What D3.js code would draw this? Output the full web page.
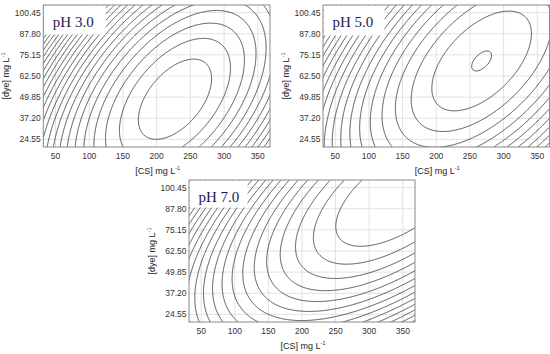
<!DOCTYPE html>
<html>
<head>
<meta charset="utf-8">
<script src="https://cdn.jsdelivr.net/npm/d3@7"></script>
<style>
  body { margin: 0; background: #fff; }
  svg text { font-family: Arial, "Liberation Sans", sans-serif; }
</style>
</head>
<body>
<svg id="chart" width="550" height="354"></svg>
<script>
// axis ranges and ticks (CCD design: axial points)
var csRange = [31.8, 368.2];
var dyeRange = [20, 105];
var csTicks = [50, 100, 150, 200, 250, 300, 350];
var dyeTicks = [24.55, 37.20, 49.85, 62.50, 75.15, 87.80, 100.45];

// one response surface per pH, in canonical form (coded units)
var phLabels = ["pH 3.0", "pH 5.0", "pH 7.0"];
var optCS = [227.2, 267.4, 351.4];
var optDye = [48.6, 71.5, 97.8];
var peak = [93.85, 95, 96.5];
var curvCS = [17.71, 13.06, 10.63];
var curvDye = [5.79, 5.12, 6.58];
var curvCross = [-10.40, -8.96, -10.6];

// contour levels (the small one only exists near the pH 5.0 optimum)
var levels = [94.8, 90, 85, 80, 75, 70, 65, 60, 55, 50, 45, 40, 35, 30, 25, 20, 15, 10, 5, 0,
              -5, -10, -15, -20, -25, -30, -35, -40, -45, -50, -55, -60, -65, -70, -75, -80,
              -85, -90, -95, -100, -105, -110, -115, -120, -125, -130, -135, -140, -145, -150];
var skipLevels = [[], [], [94.8]];

// where each panel sits on the page
var boxes = [
  {x0: 43.3, x1: 270, y0: 5, y1: 147},
  {x0: 323, x1: 549.5, y0: 5, y1: 147},
  {x0: 189, x1: 415, y0: 180, y1: 322}
];
var tagBoxes = [
  {w: 62, h: 29},
  {w: 61, h: 30},
  {w: 58, h: 27}
];

var svg = d3.select("#chart");

function response(i, cs, dye) {
  var u = (cs - optCS[i]) / 100;
  var v = (dye - optDye[i]) / 25.27;
  return peak[i] - (curvCS[i] * u * u + curvDye[i] * v * v + curvCross[i] * u * v);
}

phLabels.forEach(function(label, i) {
  var b = boxes[i];
  var x = d3.scaleLinear().domain(csRange).range([b.x0, b.x1]);
  var y = d3.scaleLinear().domain(dyeRange).range([b.y1, b.y0]);

  var g = svg.append("g");

  g.append("rect")
    .attr("x", b.x0).attr("y", b.y0)
    .attr("width", b.x1 - b.x0).attr("height", b.y1 - b.y0)
    .attr("fill", "#fff");

  // grid
  g.selectAll("line.gx").data(csTicks).enter().append("line")
    .attr("x1", d => x(d)).attr("x2", d => x(d))
    .attr("y1", b.y0).attr("y2", b.y1)
    .attr("stroke", "#e2e2e2").attr("stroke-width", 1);
  g.selectAll("line.gy").data(dyeTicks).enter().append("line")
    .attr("x1", b.x0).attr("x2", b.x1)
    .attr("y1", d => y(d)).attr("y2", d => y(d))
    .attr("stroke", "#e2e2e2").attr("stroke-width", 1);

  // contour grid, a bit larger than the plot so edges are not stroked
  var gx0 = 20, gy0 = 15, sx = 1, sy = 0.4;
  var nx = 361, ny = 238;
  var values = new Array(nx * ny);
  for (var j = 0; j < ny; j++) {
    for (var k = 0; k < nx; k++) {
      values[j * nx + k] = response(i, gx0 + k * sx, gy0 + j * sy);
    }
  }
  var th = levels.filter(l => skipLevels[i].indexOf(l) < 0);
  var contours = d3.contours().size([nx, ny]).thresholds(th)(values);

  var tr = d3.geoTransform({
    point: function(px, py) {
      this.stream.point(x(gx0 + (px - 0.5) * sx), y(gy0 + (py - 0.5) * sy));
    }
  });
  var path = d3.geoPath(tr);

  var clipId = "clip" + i;
  svg.append("clipPath").attr("id", clipId).append("rect")
    .attr("x", b.x0).attr("y", b.y0)
    .attr("width", b.x1 - b.x0).attr("height", b.y1 - b.y0);

  g.append("g").attr("clip-path", "url(#" + clipId + ")")
    .selectAll("path").data(contours).enter().append("path")
    .attr("d", path)
    .attr("fill", "none")
    .attr("stroke", "#2b2b2b")
    .attr("stroke-width", 0.8);

  // label tag
  g.append("rect")
    .attr("x", b.x0 + 0.5).attr("y", b.y0 + 0.5)
    .attr("width", tagBoxes[i].w).attr("height", tagBoxes[i].h)
    .attr("fill", "#fff");
  g.append("text")
    .attr("x", b.x0 + 9.5).attr("y", b.y0 + 21.5)
    .style("font-family", "'Liberation Serif', 'Times New Roman', serif")
    .attr("font-size", 15)
    .attr("fill", "#1c1c55")
    .text(label);

  g.append("rect")
    .attr("x", b.x0).attr("y", b.y0)
    .attr("width", b.x1 - b.x0).attr("height", b.y1 - b.y0)
    .attr("fill", "none").attr("stroke", "#8a8a8a").attr("stroke-width", 1);

  // tick labels
  g.selectAll("text.xt").data(csTicks).enter().append("text")
    .attr("x", d => x(d)).attr("y", b.y1 + 11.5)
    .attr("text-anchor", "middle")
    .attr("font-size", 8.5).attr("fill", "#333")
    .text(d => d);
  g.selectAll("text.yt").data(dyeTicks).enter().append("text")
    .attr("x", b.x0 - 2.5).attr("y", d => y(d) + 3)
    .attr("text-anchor", "end")
    .attr("font-size", 8.5).attr("fill", "#333")
    .text(d => d.toFixed(2));

  // axis titles
  var xt = g.append("text")
    .attr("x", (b.x0 + b.x1) / 2 + 1).attr("y", b.y1 + 26.5)
    .attr("text-anchor", "middle")
    .attr("font-size", 9).attr("fill", "#222");
  xt.append("tspan").text("[CS] mg L");
  xt.append("tspan").attr("font-size", 5.5).attr("dy", -4).text("-1");

  var cy = (b.y0 + b.y1) / 2;
  var yt = g.append("text")
    .attr("transform", "translate(" + (b.x0 - 34.5) + "," + cy + ") rotate(-90)")
    .attr("text-anchor", "middle")
    .attr("font-size", 9).attr("fill", "#222");
  yt.append("tspan").text("[dye] mg L");
  yt.append("tspan").attr("font-size", 5.5).attr("dy", -4).text("-1");
});
</script>
</body>
</html>
